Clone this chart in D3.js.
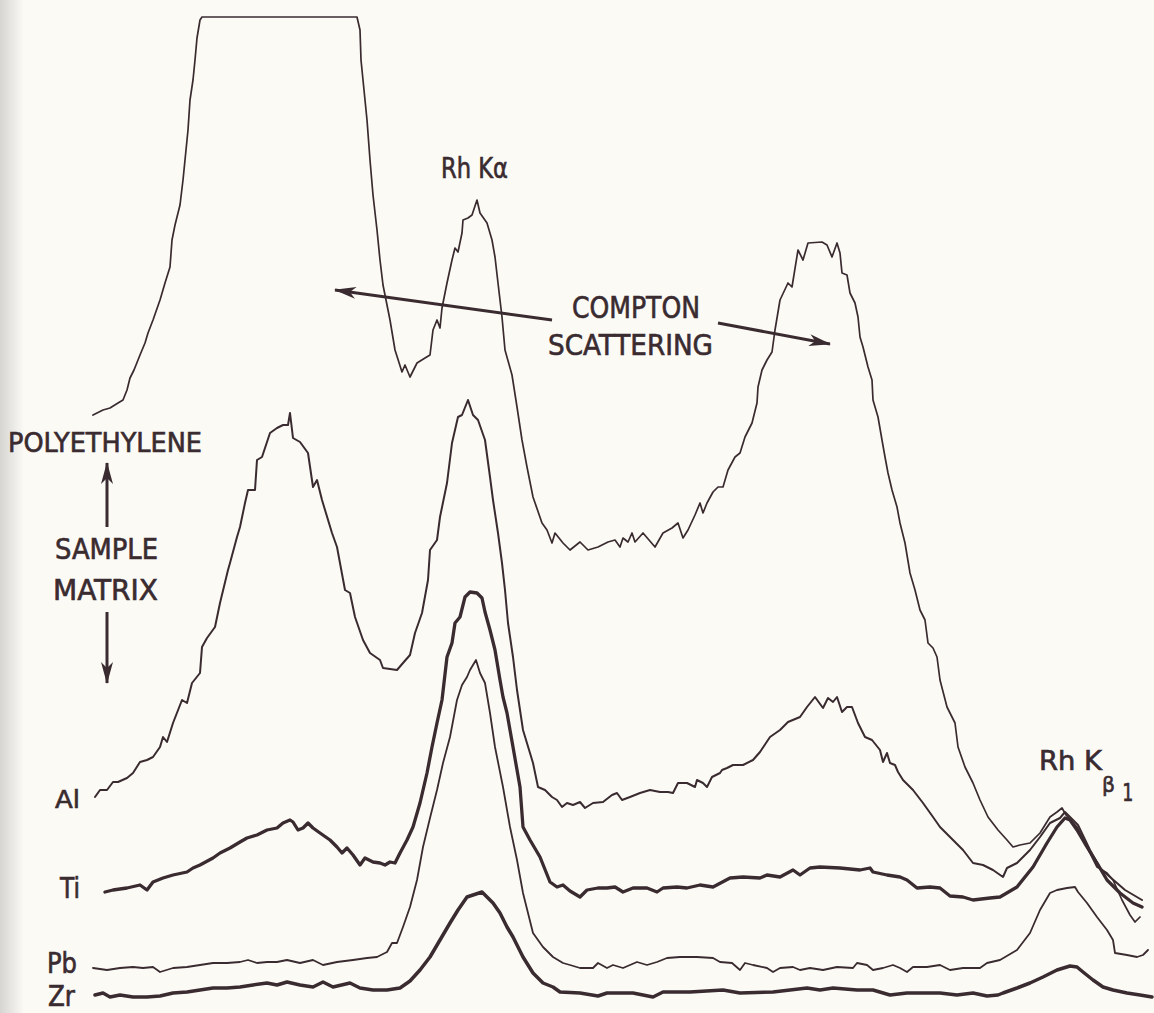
<!DOCTYPE html>
<html>
<head>
<meta charset="utf-8">
<script src="https://cdn.jsdelivr.net/npm/d3@7"></script>
<style>
  html, body { margin: 0; padding: 0; background: #fbfaf5; }
  svg { display: block; }
</style>
</head>
<body>
<svg id="chart" width="1154" height="1013"></svg>
<script>
// ---- Data: strip-chart traces (channel, relative counts) ----
const polyethylene = [
  [93,585],[103,590],[110,592],[118,597],[123,600],[127,610],[130,622],[134,630],[140,645],[145,657],[148,667],[153,680],[160,700],[165,717],[170,733],[172,760],[175,775],[180,795],[183,820],[185,840],[188,870],[190,900],[193,920],[195,940],[197,962],[200,980],[202,983],
  [357,983],[360,970],[361,940],[363,920],[365,900],[367,880],[370,840],[373,805],[377,770],[380,740],[383,715],[386,700],[390,680],[395,650],[402,628],[405,635],[410,623],[417,637],[425,642],[430,645],[433,670],[437,680],[440,672],[442,692],[447,717],[452,740],[455,752],[458,748],[462,767],[463,780],[468,782],[472,785],[477,800],[480,787],[487,777],[492,760],[495,743],[498,717],[502,683],[505,650],[512,625],[517,593],[522,560],[527,533],[533,503],[542,477],[547,470],[552,457],[555,467],[563,457],[570,450],[580,458],[588,450],[598,453],[608,458],[615,460],[620,453],[623,462],[628,458],[632,467],[635,458],[643,467],[655,453],[663,467],[672,472],[678,477],[683,462],[688,470],[695,485],[700,497],[703,487],[707,497],[713,508],[718,513],[723,513],[728,530],[735,543],[740,547],[745,563],[752,577],[757,597],[758,613],[762,630],[767,640],[772,648],[775,670],[780,700],[788,717],[792,713],[798,750],[803,740],[808,757],[822,758],[827,755],[832,743],[837,757],[840,747],[842,727],[847,725],[850,707],[855,697],[858,683],[860,663],[863,653],[868,633],[872,620],[873,600],[878,583],[882,560],[885,543],[888,527],[892,510],[897,493],[900,477],[905,457],[910,427],[915,410],[920,390],[925,380],[928,357],[933,352],[937,343],[940,320],[947,293],[955,277],[958,253],[965,233],[973,217],[980,200],[988,183],[998,170],[1007,160],[1013,153],[1020,155],[1030,157],[1040,167],[1050,183],[1057,188],[1062,192],[1066,185],[1077,173],[1090,147],[1097,133],[1107,127],[1113,120],[1122,100],[1130,85],[1135,78],[1140,83]
];
const aluminium = [
  [95,203],[100,210],[107,210],[113,218],[118,218],[127,222],[133,227],[140,238],[147,240],[153,243],[160,253],[163,263],[167,258],[173,277],[182,300],[187,297],[192,317],[200,327],[202,353],[207,362],[215,373],[220,397],[228,430],[230,437],[237,463],[240,473],[245,497],[248,510],[255,510],[257,540],[262,543],[270,567],[277,572],[283,575],[288,575],[290,587],[293,562],[300,558],[308,547],[313,513],[317,520],[322,500],[332,467],[337,453],[345,410],[350,407],[355,383],[363,360],[370,347],[380,340],[383,332],[397,330],[403,337],[410,345],[415,367],[422,387],[428,420],[430,450],[437,460],[440,483],[447,517],[452,557],[458,583],[462,585],[468,600],[473,585],[478,580],[485,560],[490,523],[493,500],[498,467],[502,437],[505,410],[508,377],[513,343],[517,310],[523,270],[533,237],[538,213],[545,210],[552,203],[557,200],[562,193],[567,197],[573,195],[580,198],[585,192],[593,197],[603,198],[612,205],[617,207],[622,200],[630,203],[640,207],[650,210],[660,208],[668,208],[673,207],[678,217],[687,217],[695,213],[697,220],[703,217],[707,213],[712,223],[720,227],[722,230],[727,232],[733,235],[743,235],[753,240],[760,248],[770,263],[780,270],[788,278],[800,283],[807,293],[815,303],[823,292],[828,302],[833,298],[837,303],[842,288],[847,293],[852,293],[858,277],[865,263],[872,260],[880,250],[883,238],[887,247],[890,237],[895,235],[898,228],[903,220],[913,210],[923,197],[933,183],[940,173],[950,163],[963,150],[973,137],[983,135],[993,130],[1003,123],[1007,132],[1017,137],[1030,150],[1040,163],[1050,177],[1060,182],[1065,188],[1078,175],[1090,150],[1100,132],[1110,123],[1125,110],[1142,100]
];
const titanium = [
  [105,108],[113,110],[127,112],[140,115],[147,110],[153,118],[163,122],[173,125],[187,128],[193,132],[200,135],[213,142],[220,147],[230,152],[240,158],[247,162],[257,165],[267,170],[277,172],[283,177],[290,180],[293,178],[298,170],[303,172],[308,177],[313,172],[320,167],[330,160],[337,153],[342,147],[347,152],[353,145],[360,135],[365,142],[373,138],[380,137],[385,135],[390,138],[395,137],[400,147],[407,160],[413,173],[420,197],[427,227],[432,253],[437,277],[442,300],[447,343],[452,357],[455,377],[460,383],[465,403],[470,408],[477,407],[482,402],[485,388],[490,370],[495,350],[500,320],[503,303],[507,287],[513,253],[520,213],[523,173],[530,160],[540,143],[550,118],[557,113],[563,115],[570,109],[580,103],[587,110],[598,112],[607,112],[615,113],[623,108],[633,112],[647,112],[657,108],[663,112],[677,113],[687,112],[700,115],[713,113],[730,122],[743,123],[760,122],[767,125],[780,123],[793,130],[800,125],[810,132],[820,133],[840,132],[860,130],[870,132],[873,128],[887,125],[900,123],[907,120],[917,112],[930,113],[940,112],[950,104],[963,103],[973,100],[990,102],[1000,103],[1017,113],[1033,133],[1047,157],[1057,173],[1065,182],[1070,180],[1077,170],[1087,153],[1097,137],[1107,120],[1120,107],[1133,97],[1142,93]
];
const lead = [
  [93,32],[107,30],[120,32],[133,33],[143,32],[153,33],[160,28],[173,32],[187,33],[200,35],[213,37],[227,37],[240,38],[248,40],[257,37],[267,38],[277,38],[287,40],[300,37],[313,40],[323,35],[337,38],[353,40],[367,42],[377,43],[387,48],[392,57],[397,57],[403,73],[410,93],[417,120],[423,153],[430,182],[437,210],[443,237],[450,263],[457,300],[462,315],[467,323],[470,330],[476,340],[480,327],[485,317],[490,287],[495,253],[503,213],[510,173],[517,140],[523,107],[533,67],[543,53],[553,43],[563,37],[570,35],[580,32],[593,32],[598,37],[607,32],[613,35],[623,32],[630,35],[637,38],[647,35],[657,38],[667,42],[680,43],[697,43],[713,42],[720,38],[732,37],[740,30],[745,37],[753,35],[767,32],[773,28],[780,32],[793,33],[800,30],[810,32],[823,30],[837,33],[853,32],[857,37],[867,35],[873,30],[883,32],[893,35],[900,32],[907,28],[913,33],[927,33],[940,35],[950,30],[963,32],[980,32],[987,37],[1000,40],[1017,50],[1030,67],[1040,90],[1050,107],[1057,110],[1067,112],[1075,113],[1078,108],[1087,97],[1097,83],[1107,70],[1113,60],[1115,47],[1127,45],[1137,43],[1143,45],[1148,50]
];
const zirconium = [
  [95,5],[103,7],[110,3],[120,5],[133,3],[147,3],[160,4],[173,7],[187,8],[200,10],[213,12],[227,12],[240,13],[253,15],[267,17],[277,15],[287,18],[300,15],[313,13],[323,18],[333,13],[350,17],[360,12],[373,10],[387,10],[400,12],[410,19],[420,30],[430,43],[440,60],[450,77],[458,90],[467,103],[473,105],[482,108],[487,103],[493,97],[500,87],[507,73],[513,63],[523,43],[533,27],[543,17],[553,13],[560,8],[580,7],[598,4],[607,7],[633,7],[653,3],[663,8],[690,8],[723,10],[740,7],[773,8],[807,12],[820,10],[833,12],[857,10],[873,10],[890,5],[907,7],[940,7],[957,5],[973,7],[987,4],[998,5],[1003,7],[1017,12],[1030,17],[1043,23],[1057,30],[1070,34],[1077,33],[1083,28],[1093,20],[1103,13],[1113,10],[1127,7],[1140,5],[1152,3]
];

const seriesNames = ["POLYETHYLENE", "Al", "Ti", "Pb", "Zr"];
const seriesValues = [polyethylene, aluminium, titanium, lead, zirconium];
const traceLabels = ["Al", "Ti", "Pb", "Zr"];

// ---- Layout / style (kept separate from data) ----
const W = 1154, H = 1013;
const ink = "#3a2b30";
const strokeWidths = [1.7, 2.0, 3.3, 1.8, 3.5];

const x = d3.scaleLinear().domain([0, 1154]).range([0, 1154]);
const y = d3.scaleLinear().domain([0, 1000]).range([1000, 0]);

const svg = d3.select("#chart");
const defs = svg.append("defs");

// scanned-page edge shading
const grad = defs.append("linearGradient").attr("id", "edge").attr("x1", 0).attr("x2", 1);
grad.append("stop").attr("offset", "0%").attr("stop-color", "#d6d5d1");
grad.append("stop").attr("offset", "60%").attr("stop-color", "#ecebe7");
grad.append("stop").attr("offset", "100%").attr("stop-color", "#fbfaf5");
svg.append("rect").attr("width", W).attr("height", H).attr("fill", "#fbfaf5");
svg.append("rect").attr("width", 24).attr("height", H).attr("fill", "url(#edge)");

defs.append("marker")
  .attr("id", "head")
  .attr("viewBox", "0 0 22 12")
  .attr("refX", 21).attr("refY", 6)
  .attr("markerWidth", 22).attr("markerHeight", 12)
  .attr("markerUnits", "userSpaceOnUse")
  .attr("orient", "auto")
  .append("path")
  .attr("d", "M0,0 L22,6 L0,12 L6,6 Z")
  .attr("fill", ink);

const line = d3.line().x(d => x(d[0])).y(d => y(d[1])).curve(d3.curveLinear);

svg.append("g").selectAll("path")
  .data(seriesValues)
  .join("path")
  .attr("d", d => line(d))
  .attr("fill", "none")
  .attr("stroke", ink)
  .attr("stroke-width", (d, i) => strokeWidths[i])
  .attr("stroke-linejoin", "round")
  .attr("stroke-linecap", "round");

// ---- Annotations (in data coordinates) ----
const font = "'DejaVu Sans Condensed', 'Liberation Sans Narrow', 'DejaVu Sans', sans-serif";
const texts = [
  {t: "POLYETHYLENE", cx: 8,   cy: 548, w: 194, fs: 27},
  {t: "SAMPLE",       cx: 55,  cy: 441, w: 103, fs: 28},
  {t: "MATRIX",       cx: 53,  cy: 400, w: 105, fs: 29},
  {t: "Al",           cx: 55,  cy: 192, w: 25,  fs: 25},
  {t: "Ti",           cx: 60,  cy: 102, w: 20,  fs: 28},
  {t: "Pb",           cx: 47,  cy: 27,  w: 30,  fs: 28},
  {t: "Zr",           cx: 48,  cy: -6,  w: 27,  fs: 28},
  {t: "Rh Kα",        cx: 441, cy: 822, w: 67,  fs: 28},
  {t: "COMPTON",      cx: 572, cy: 682, w: 128, fs: 30},
  {t: "SCATTERING",   cx: 548, cy: 645, w: 165, fs: 29},
  {t: "Rh K",         cx: 1039, cy: 230, w: 63, fs: 26},
  {t: "β",            cx: 1102, cy: 208, w: 13, fs: 22},
  {t: "1",            cx: 1122, cy: 199, w: 11, fs: 24, mono: true}
];
svg.append("g").selectAll("text")
  .data(texts)
  .join("text")
  .attr("x", d => x(d.cx))
  .attr("y", d => y(d.cy))
  .attr("textLength", d => d.w)
  .attr("lengthAdjust", "spacingAndGlyphs")
  .attr("font-family", d => d.mono ? "'DejaVu Sans Mono', monospace" : font)
  .attr("font-size", d => d.fs)
  .attr("fill", ink)
  .attr("stroke", ink)
  .attr("stroke-width", 0.6)
  .text(d => d.t);

const arrows = [
  {x1: 552, y1: 680, x2: 335, y2: 710},
  {x1: 718, y1: 677, x2: 830, y2: 656},
  {x1: 107, y1: 473, x2: 107, y2: 537},
  {x1: 107, y1: 388, x2: 107, y2: 317}
];
svg.append("g").selectAll("line")
  .data(arrows)
  .join("line")
  .attr("x1", d => x(d.x1)).attr("y1", d => y(d.y1))
  .attr("x2", d => x(d.x2)).attr("y2", d => y(d.y2))
  .attr("stroke", ink)
  .attr("stroke-width", 3)
  .attr("marker-end", "url(#head)");
</script>
</body>
</html>
